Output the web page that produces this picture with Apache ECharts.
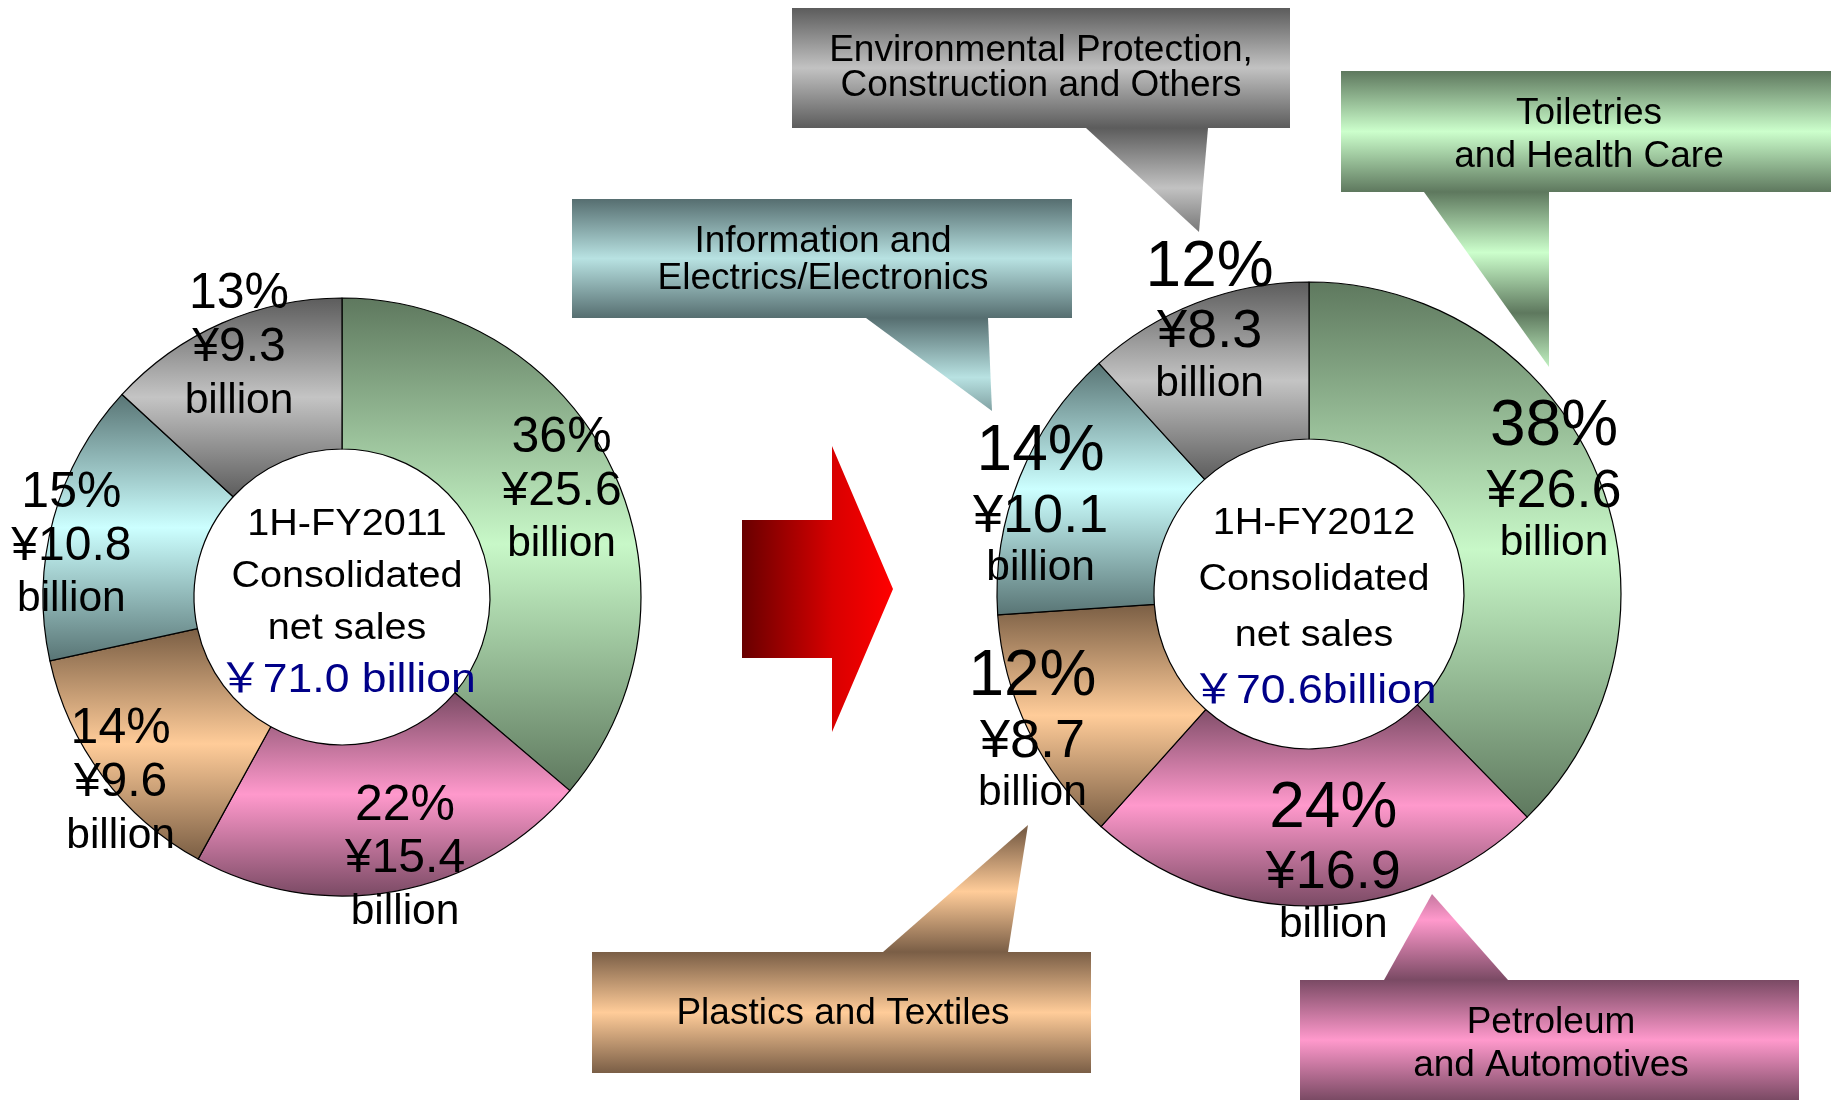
<!DOCTYPE html>
<html>
<head>
<meta charset="utf-8">
<style>
  html, body { margin: 0; padding: 0; background: #ffffff; }
  #chart { width: 1831px; height: 1100px; }
</style>
<script src="https://cdn.jsdelivr.net/npm/echarts@6/dist/echarts.min.js"></script>
</head>
<body>
<div id="chart"></div>
<script>
// Business segments, in clockwise order from 12 o'clock
const segments = [
  'Toiletries\nand Health Care',
  'Petroleum\nand Automotives',
  'Plastics and Textiles',
  'Information and\nElectrics/Electronics',
  'Environmental Protection,\nConstruction and Others'
];

// Net sales by segment, billions of yen
const sales2011 = [25.6, 15.4, 9.6, 10.8, 9.3];
const sales2012 = [26.6, 16.9, 8.7, 10.1, 8.3];

const periodLabels = ['1H-FY2011', '1H-FY2012'];
const centerCaption = ['Consolidated', 'net sales'];
const totalLabels = ['￥71.0 billion', '￥70.6billion'];

// ---- styling ----
const FONT = '"Liberation Sans", Arial, "Noto Sans CJK JP", sans-serif';

// dark edge / light core for each segment's shading
const shades = [
  { dark: '#5e785e', light: '#c8f8c8' },
  { dark: '#7a4a64', light: '#ff99cc' },
  { dark: '#7a5e44', light: '#ffcc99' },
  { dark: '#587474', light: '#ccffff' },
  { dark: '#5c5c5c', light: '#c4c4c4' }
];
const calloutShades = [
  { dark: '#5e785e', light: '#ccffcc' },
  { dark: '#7a4a64', light: '#ff99cc' },
  { dark: '#7a5e46', light: '#ffcc99' },
  { dark: '#566e70', light: '#b8e2e2' },
  { dark: '#5c5c5c', light: '#c2c2c2' }
];

const donutLayout = [
  { center: [342, 597], radius: [148, 299], captionX: 5, captionDy: 6, lineHeight: 52,
    rich: { p: [50, 54], y: [48, 53], b: [42.5, 53] },
    nudge: [[14, -11], [22, 39], [-40, 50], [-52, 8], [-12, -42]] },
  { center: [1309, 594], radius: [155, 312], captionX: 5, captionDy: 14, lineHeight: 56,
    rich: { p: [64, 70], y: [54, 58], b: [42.5, 46] },
    nudge: [[26, -25], [19, 31], [-64, 32], [-49, -1], [-14, -53]] }
];

// callout boxes: rect [x, y, w, h], pointer triangle, text anchor, line height
const calloutLayout = [
  { box: [1341, 71, 490, 121], tip: [[1424, 192], [1549, 192], [1549, 367]], text: [1589, 135], lh: 43, cycles: [0, 3] },
  { box: [1300, 980, 499, 120], tip: [[1384, 980], [1508, 980], [1432, 894]], text: [1551, 1044], lh: 43, cycles: [2, 3] },
  { box: [592, 952, 499, 121], tip: [[883, 952], [1008, 952], [1028, 825]], text: [843, 1014], lh: 43, cycles: [2, 3] },
  { box: [572, 199, 500, 119], tip: [[866, 318], [988, 318], [992, 411]], text: [823, 260], lh: 37, cycles: [0, 2] },
  { box: [792, 8, 498, 120], tip: [[1086, 128], [1208, 128], [1199, 232]], text: [1041, 68], lh: 35, cycles: [0, 2] }
];

function sectorGradient(s) {
  return new echarts.graphic.LinearGradient(0, 0, 0, 1, [
    { offset: 0, color: s.dark },
    { offset: 0.5, color: s.light },
    { offset: 1, color: s.dark }
  ]);
}

// repeating dark-light-dark bands in page coordinates
function bandGradient(y0, period, n, s) {
  const stops = [];
  for (let i = 0; i < n; i++) {
    stops.push({ offset: i / n, color: s.dark });
    stops.push({ offset: (i + 0.5) / n, color: s.light });
  }
  stops.push({ offset: 1, color: s.dark });
  return new echarts.graphic.LinearGradient(0, y0, 0, y0 + period * n, stops, true);
}

function richStyles(sizes) {
  const out = {};
  Object.keys(sizes).forEach(k => {
    out[k] = {
      fontFamily: FONT, fontSize: sizes[k][0], lineHeight: sizes[k][1], color: '#000',
      textShadowColor: '#b0b0b0', textShadowOffsetX: 2.5, textShadowOffsetY: 2.5, textShadowBlur: 0
    };
  });
  return out;
}

function donutSeries(values, cfg) {
  return {
    type: 'pie',
    center: cfg.center,
    radius: cfg.radius,
    startAngle: 90,
    clockwise: true,
    percentPrecision: 0,
    avoidLabelOverlap: false,
    silent: true,
    animation: false,
    itemStyle: { borderColor: '#000', borderWidth: 1.2 },
    label: {
      show: true,
      position: 'inside',
      formatter: p => '{p|' + p.percent + '%}\n{y|¥' + p.value.toFixed(1) + '}\n{b|billion}',
      rich: richStyles(cfg.rich)
    },
    labelLine: { show: false },
    labelLayout: p => ({ dx: cfg.nudge[p.dataIndex][0], dy: cfg.nudge[p.dataIndex][1] }),
    data: values.map((v, i) => ({
      name: segments[i],
      value: v,
      itemStyle: { color: sectorGradient(shades[i]) }
    }))
  };
}

function centerText(k) {
  const cfg = donutLayout[k];
  const st = { fontFamily: FONT, fontSize: 36, lineHeight: cfg.lineHeight, fill: '#000' };
  return {
    type: 'text',
    x: cfg.center[0] + cfg.captionX,
    y: cfg.center[1] + cfg.captionDy,
    scaleX: 1.1,
    z: 10,
    style: {
      text: '{a|' + periodLabels[k] + '}\n{a|' + centerCaption.join('}\n{a|') + '}\n{t|' + totalLabels[k] + '}',
      align: 'center',
      verticalAlign: 'middle',
      rich: { a: st, t: Object.assign({}, st, { fontSize: 40.5, fill: '#000088' }) }
    }
  };
}

const graphics = [];

calloutLayout.forEach((c, i) => {
  const [bx, by, bw, bh] = c.box;
  const fill = bandGradient(by - bh * c.cycles[0], bh, c.cycles[1], calloutShades[i]);
  graphics.push({ type: 'rect', shape: { x: bx, y: by, width: bw, height: bh }, style: { fill: fill }, z: 1 });
  graphics.push({ type: 'polygon', shape: { points: c.tip }, style: { fill: fill }, z: 1 });
  graphics.push({
    type: 'text', x: c.text[0], y: c.text[1], z: 3,
    style: {
      text: segments[i], align: 'center', verticalAlign: 'middle',
      fontFamily: FONT, fontSize: 37, lineHeight: c.lh, fill: '#000',
      textShadowColor: 'rgba(255,255,255,0.85)', textShadowOffsetX: 2, textShadowOffsetY: 2
    }
  });
});

// transition arrow between the two periods
graphics.push({
  type: 'polygon', z: 1,
  shape: { points: [[742, 520], [832, 520], [832, 446], [893, 589], [832, 732], [832, 658], [742, 658]] },
  style: {
    fill: new echarts.graphic.LinearGradient(742, 0, 893, 0, [
      { offset: 0, color: '#680000' },
      { offset: 0.6, color: '#d80000' },
      { offset: 1, color: '#ff0000' }
    ], true)
  }
});

graphics.push(centerText(0), centerText(1));

const chart = echarts.init(document.getElementById('chart'), null, { renderer: 'canvas' });
chart.setOption({
  backgroundColor: '#ffffff',
  animation: false,
  graphic: { elements: graphics },
  series: [donutSeries(sales2011, donutLayout[0]), donutSeries(sales2012, donutLayout[1])]
});
</script>
</body>
</html>
